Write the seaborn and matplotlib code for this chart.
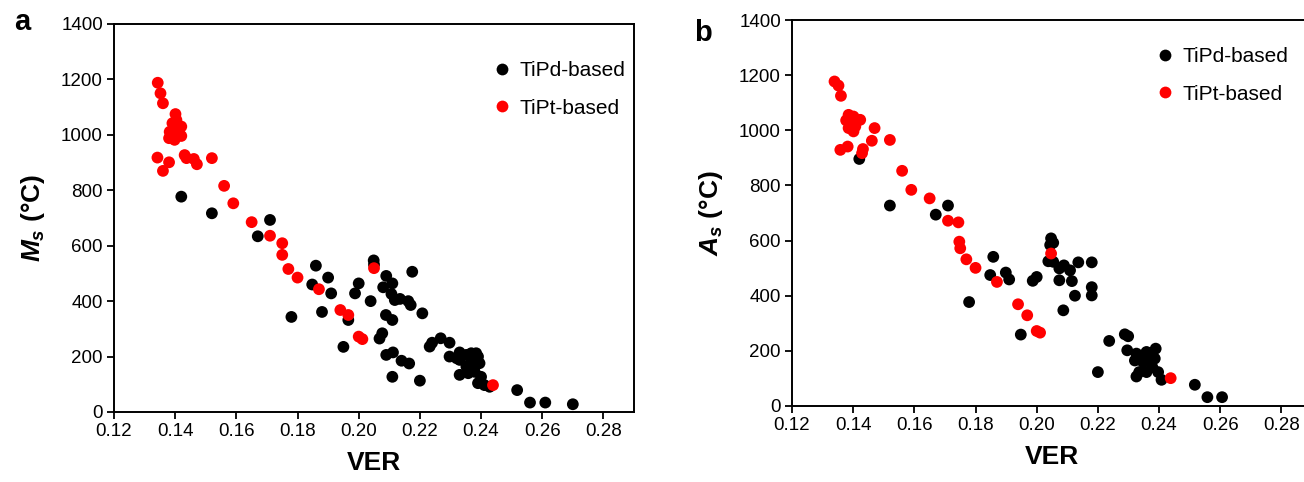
import numpy as np
import pandas as pd
import matplotlib
matplotlib.use("Agg")
import matplotlib.pyplot as plt
import seaborn as sns

# Panel a: Ms vs VER
ms_pd_ver = [0.142, 0.152, 0.171, 0.167, 0.186, 0.190, 0.1848, 0.191, 0.178, 0.188,
             0.195, 0.1966, 0.200, 0.1988, 0.2039, 0.2049, 0.205, 0.209, 0.208, 0.211,
             0.2107, 0.2118, 0.2135, 0.2162, 0.217, 0.2175, 0.2208, 0.2089, 0.211, 0.2077,
             0.2068, 0.209, 0.2112, 0.214, 0.2165, 0.211, 0.220, 0.2232, 0.224, 0.2268,
             0.2297, 0.2297, 0.232, 0.233, 0.233, 0.2352, 0.2368, 0.2384, 0.239, 0.2368,
             0.2384, 0.2352, 0.2379, 0.2395, 0.233, 0.2358, 0.2379, 0.240, 0.239, 0.2411,
             0.2428, 0.2518, 0.256, 0.261, 0.270]
ms_pd_val = [777, 717, 693, 634, 528, 485, 460, 428, 343, 361,
             235, 332, 464, 428, 400, 547, 532, 491, 450, 464,
             426, 404, 408, 400, 386, 506, 356, 350, 332, 284,
             265, 206, 215, 185, 175, 127, 113, 236, 250, 266,
             250, 200, 194, 215, 188, 206, 212, 212, 200, 182,
             182, 164, 164, 176, 134, 140, 145, 127, 104, 97,
             91, 79, 34, 34, 28]
ms_pt_ver = [0.1343, 0.1352, 0.1360, 0.1401, 0.1391, 0.1404, 0.142, 0.1382, 0.1398, 0.1415,
             0.138, 0.1398, 0.142, 0.1342, 0.1380, 0.1360, 0.1431, 0.1437, 0.1461, 0.1471,
             0.152, 0.156, 0.159, 0.165, 0.171, 0.175, 0.175, 0.177, 0.180, 0.187,
             0.194, 0.1966, 0.200, 0.2012, 0.205, 0.2439]
ms_pt_val = [1188, 1150, 1114, 1075, 1042, 1054, 1030, 1011, 1011, 1000,
             988, 982, 996, 918, 901, 870, 927, 916, 913, 894,
             916, 816, 753, 685, 636, 609, 567, 516, 485, 443,
             368, 350, 272, 263, 519, 97]

# Panel b: As vs VER
as_pd_ver = [0.142, 0.152, 0.167, 0.171, 0.1858, 0.1848, 0.1899, 0.191, 0.1779, 0.1948,
             0.1987, 0.200, 0.2047, 0.2044, 0.2054, 0.2038, 0.2054, 0.2074, 0.2074, 0.2087,
             0.2089, 0.2109, 0.2136, 0.2115, 0.2125, 0.218, 0.218, 0.218,
             0.220, 0.2237, 0.2288, 0.2299, 0.2296, 0.2326, 0.2321, 0.2348, 0.2359, 0.2375,
             0.2389, 0.2386, 0.237, 0.2348, 0.2335, 0.2326, 0.2359, 0.2378, 0.2397, 0.2408,
             0.2517, 0.2558, 0.2606]
as_pd_val = [896, 727, 694, 727, 541, 475, 484, 459, 377, 259,
             454, 468, 608, 584, 592, 525, 523, 499, 456, 347,
             510, 492, 521, 453, 400, 521, 431, 401,
             123, 236, 260, 253, 202, 190, 165, 184, 196, 190,
             208, 172, 165, 159, 123, 107, 123, 141, 123, 95,
             77, 32, 32]
as_pt_ver = [0.1339, 0.1352, 0.136, 0.1385, 0.1401, 0.1423, 0.1377, 0.139, 0.1407, 0.1401,
             0.1385, 0.147, 0.1461, 0.152, 0.1432, 0.1429, 0.1358, 0.1382, 0.156, 0.159,
             0.165, 0.171, 0.1744, 0.1747, 0.175, 0.177, 0.180, 0.187, 0.1939, 0.1969,
             0.200, 0.2011, 0.2047, 0.2438]
as_pt_val = [1177, 1162, 1125, 1056, 1050, 1038, 1036, 1026, 1014, 996,
             1008, 1008, 962, 965, 932, 917, 929, 941, 853, 784,
             753, 672, 666, 596, 572, 532, 501, 450, 369, 329,
             272, 266, 553, 101]

groups = ["TiPd-based", "TiPt-based"]
colors = {"TiPd-based": "black", "TiPt-based": "#ff0000"}


def make_df(pd_x, pd_y, pt_x, pt_y):
    return pd.DataFrame({
        "VER": list(pd_x) + list(pt_x),
        "T": list(pd_y) + list(pt_y),
        "Alloy": [groups[0]] * len(pd_x) + [groups[1]] * len(pt_x),
    })


df_a = make_df(ms_pd_ver, ms_pd_val, ms_pt_ver, ms_pt_val)
df_b = make_df(as_pd_ver, as_pd_val, as_pt_ver, as_pt_val)

sns.set_style("white")
plt.rcParams["font.family"] = ["Liberation Sans", "DejaVu Sans"]
plt.rcParams["text.color"] = "black"
plt.rcParams["axes.labelcolor"] = "black"
plt.rcParams["xtick.color"] = "black"
plt.rcParams["ytick.color"] = "black"
plt.rcParams["mathtext.fontset"] = "custom"
plt.rcParams["mathtext.it"] = "Liberation Sans:italic:bold"
plt.rcParams["mathtext.bf"] = "Liberation Sans:bold"
plt.rcParams["mathtext.rm"] = "Liberation Sans:bold"

W, H = 1304, 482
fig = plt.figure(figsize=(W / 100, H / 100), dpi=100)


def px_axes(left, top, right, bottom):
    return fig.add_axes([left / W, 1 - bottom / H, (right - left) / W, (bottom - top) / H])


ax_a = px_axes(114, 24, 634, 412)
ax_b = px_axes(792, 20, 1312, 406)

panels = [
    (ax_a, df_a, r"$\mathit{M}_\mathit{s}$ (°C)", (0.735, 0.905)),
    (ax_b, df_b, r"$\mathit{A}_\mathit{s}$ (°C)", (0.706, 0.93)),
]

for ax, df, ylab, leg_pos in panels:
    sns.scatterplot(data=df, x="VER", y="T", hue="Alloy", palette=colors,
                    hue_order=groups, s=72, linewidth=0, ax=ax)
    ax.set_xlim(0.12, 0.29)
    ax.set_ylim(0, 1400)
    ticks = np.arange(0.12, 0.2801, 0.02)
    ax.set_xticks(ticks)
    ax.set_xticklabels([f"{v:.2f}" for v in ticks])
    ax.set_yticks(range(0, 1401, 200))
    ax.tick_params(direction="out", length=5, width=1.3, labelsize=13.5,
                   bottom=True, left=True, pad=3)
    for sp in ax.spines.values():
        sp.set_linewidth(1.4)
        sp.set_color("black")
    ax.set_xlabel("VER", fontsize=19, fontweight="bold", labelpad=8)
    ax.set_ylabel(ylab, fontsize=19, fontweight="bold", labelpad=10)
    ax.legend(loc="upper left", bbox_to_anchor=leg_pos, frameon=False,
              borderaxespad=0, borderpad=0, handlelength=0.6, handletextpad=0.5,
              labelspacing=0.9, fontsize=15, markerscale=1.0)

fig.text(22 / W, 1 - 22 / H, "a", fontsize=21, fontweight="bold", va="center", ha="center")
fig.text(703 / W, 1 - 33 / H, "b", fontsize=21, fontweight="bold", va="center", ha="center")

fig.savefig("out.png", dpi=100)
